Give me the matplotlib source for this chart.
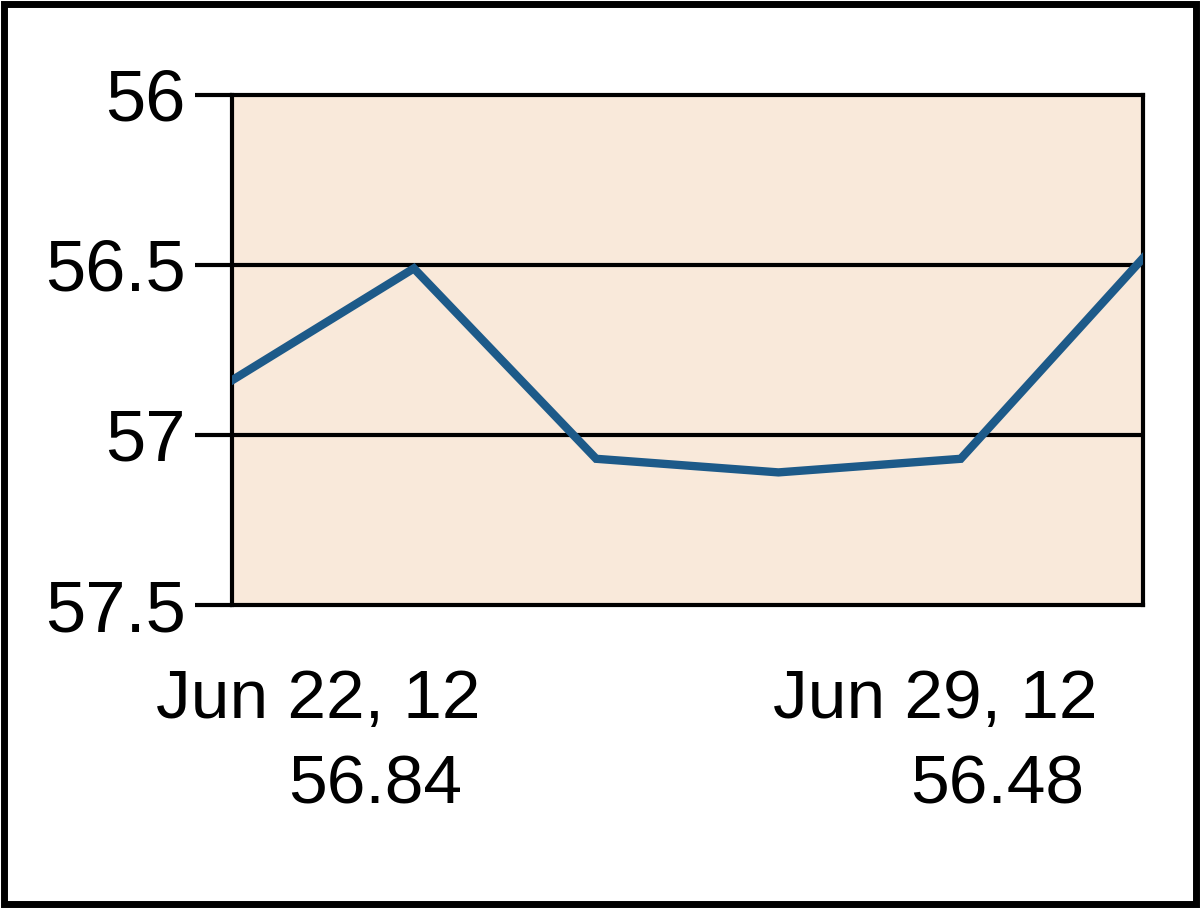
import matplotlib
matplotlib.use("Agg")
import matplotlib.pyplot as plt
from matplotlib.patches import Rectangle

dates = ["Jun 22", "Jun 25", "Jun 26", "Jun 27", "Jun 28", "Jun 29"]
values = [56.84, 56.51, 57.07, 57.11, 57.07, 56.48]
yticks = [56, 56.5, 57, 57.5]
ytick_labels = ["56", "56.5", "57", "57.5"]
date_labels = ["Jun 22, 12", "Jun 29, 12"]
value_labels = ["56.84", "56.48"]

plt.rcParams['font.family'] = ['Liberation Sans', 'DejaVu Sans']

fig = plt.figure(figsize=(12, 9.08), dpi=100)
fig.patch.set_facecolor('white')
fig.patches.append(Rectangle((0.003, 0.004), 0.994, 0.992, transform=fig.transFigure,
                             fill=False, edgecolor='black', linewidth=5))

ax = fig.add_axes([0.193, 0.3337, 0.7595, 0.5617])
ax.set_facecolor('#F9E9DA')
x = list(range(len(values)))
ax.plot(x, values, color='#1D5A89', linewidth=6, solid_joinstyle='miter', zorder=3)
ax.set_xlim(0, len(values) - 1)
ax.set_ylim(57.5, 56)
ax.set_yticks(yticks)
ax.set_yticklabels(ytick_labels, fontsize=52)
ax.set_xticks([])
for y in yticks[1:-1]:
    ax.axhline(y, color='black', linewidth=3, zorder=2)
for s in ax.spines.values():
    s.set_linewidth(3)
    s.set_color('black')
ax.tick_params(axis='y', length=27, width=3, pad=6, colors='black')

fig.text(0.265, 0.229, date_labels[0], ha='center', va='center', fontsize=50)
fig.text(0.779, 0.229, date_labels[1], ha='center', va='center', fontsize=50)
fig.text(0.3125, 0.135, value_labels[0], ha='center', va='center', fontsize=50)
fig.text(0.831, 0.135, value_labels[1], ha='center', va='center', fontsize=50)

fig.savefig('out.png', dpi=100)
